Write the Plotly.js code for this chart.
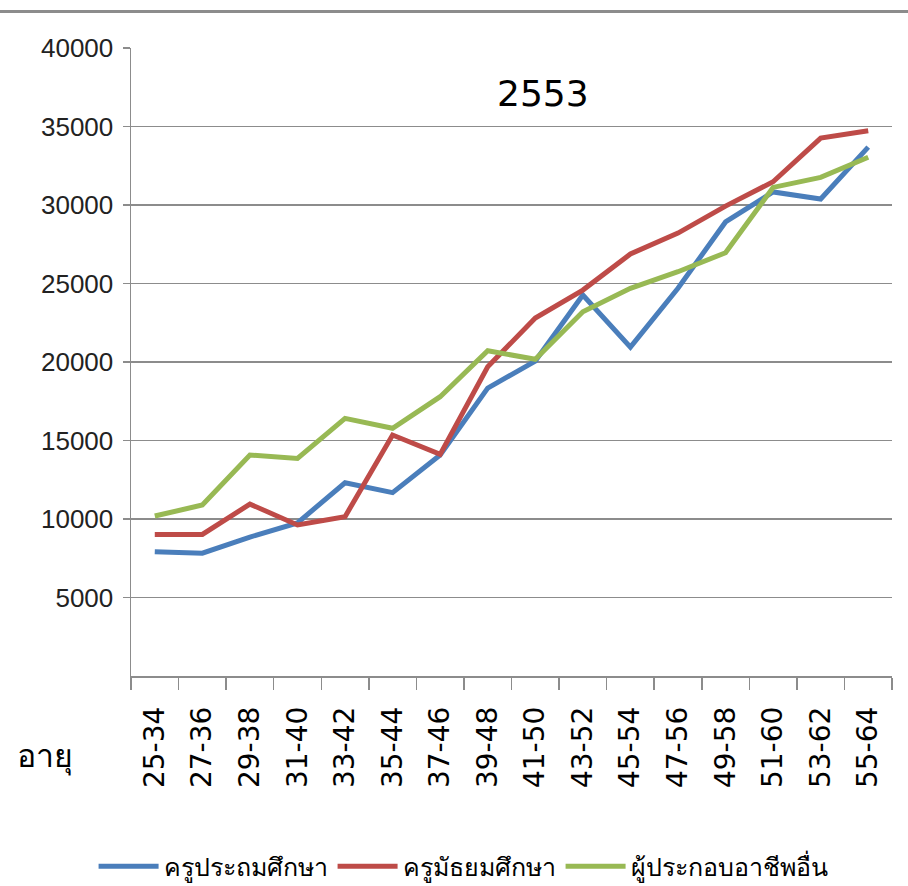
<!DOCTYPE html>
<html>
<head>
<meta charset="utf-8">
<script src="https://cdn.plot.ly/plotly-3.0.1.min.js"></script>
<style>html,body{margin:0;padding:0;background:#fff;}#chart{width:908px;height:886px;}</style>
</head>
<body>
<div id="chart"></div>
<script>
const categories = ["25-34","27-36","29-38","31-40","33-42","35-44","37-46","39-48","41-50","43-52","45-54","47-56","49-58","51-60","53-62","55-64"];
const primaryTeachers = [7920,7820,8850,9750,12310,11680,14075,18340,20060,24270,20950,24700,28920,30830,30380,33690];
const secondaryTeachers = [9020,9020,10950,9620,10150,15350,14120,19700,22800,24580,26880,28210,29930,31480,34260,34730];
const otherOccupations = [10190,10890,14075,13860,16410,15780,17790,20720,20170,23200,24690,25750,26960,31120,31760,33040];
const seriesNames = ["ครูประถมศึกษา","ครูมัธยมศึกษา","ผู้ประกอบอาชีพอื่น"];
const yTicks = [5000,10000,15000,20000,25000,30000,35000,40000];

const colors = ["#4a7ebb","#be4b48","#98b954"];
const series = [primaryTeachers, secondaryTeachers, otherOccupations];
const data = series.map((s,i)=>({
  x: categories, y: s, type: "scatter", mode: "lines", name: seriesNames[i],
  line: {color: colors[i], width: 5}
}));

const layout = {
  width: 908, height: 886,
  margin: {l: 131, r: 16, t: 48, b: 210, autoexpand: false},
  paper_bgcolor: "#fff", plot_bgcolor: "#fff",
  showlegend: true,
  legend: {orientation: "h", xref: "container", yref: "container", x: 0.51, xanchor: "center", y: 0.022, yanchor: "middle",
    font: {family: "Noto Sans, DejaVu Sans", size: 25, color: "#000"}, itemwidth: 60, tracegroupgap: 0},
  xaxis: {
    type: "category", range: [-0.5, 15.5], tickson: "boundaries",
    showgrid: false, showline: true, linecolor: "#8c8c8c", linewidth: 1.5,
    ticks: "outside", ticklen: 12, tickcolor: "#8c8c8c", tickwidth: 1.5,
    tickangle: -90, tickfont: {family: "DejaVu Sans", size: 28, color: "#000"},
    ticklabelstandoff: 18,
    fixedrange: true
  },
  yaxis: {
    range: [0, 40000], tickvals: yTicks, ticktext: yTicks.map(String),
    showgrid: true, gridcolor: "#8c8c8c", gridwidth: 1.5,
    showline: true, linecolor: "#8c8c8c", linewidth: 1.5,
    ticks: "outside", ticklen: 7, tickcolor: "#8c8c8c", tickwidth: 1.5,
    zeroline: false,
    tickfont: {family: "Liberation Sans Narrow, Liberation Sans", size: 26, color: "#222"},
    ticklabelstandoff: 4
  },
  annotations: [
    {text: "2553", xref: "paper", yref: "paper", x: 0.541, y: 0.928, xanchor: "center", yanchor: "middle",
      showarrow: false, font: {family: "DejaVu Sans", size: 36, color: "#000"}},
    {text: "อายุ", xref: "paper", yref: "paper", x: -0.152, y: -0.125, xanchor: "left", yanchor: "middle",
      showarrow: false, font: {family: "Noto Sans, DejaVu Sans", size: 32, color: "#000"}}
  ],
  shapes: [
    {type: "line", xref: "paper", yref: "paper", x0: -0.2, x1: 1.05, y0: 1.058, y1: 1.058,
      line: {color: "#8c8c8c", width: 3}}
  ]
};
Plotly.newPlot("chart", data, layout, {displayModeBar: false, staticPlot: true});
</script>
</body>
</html>
